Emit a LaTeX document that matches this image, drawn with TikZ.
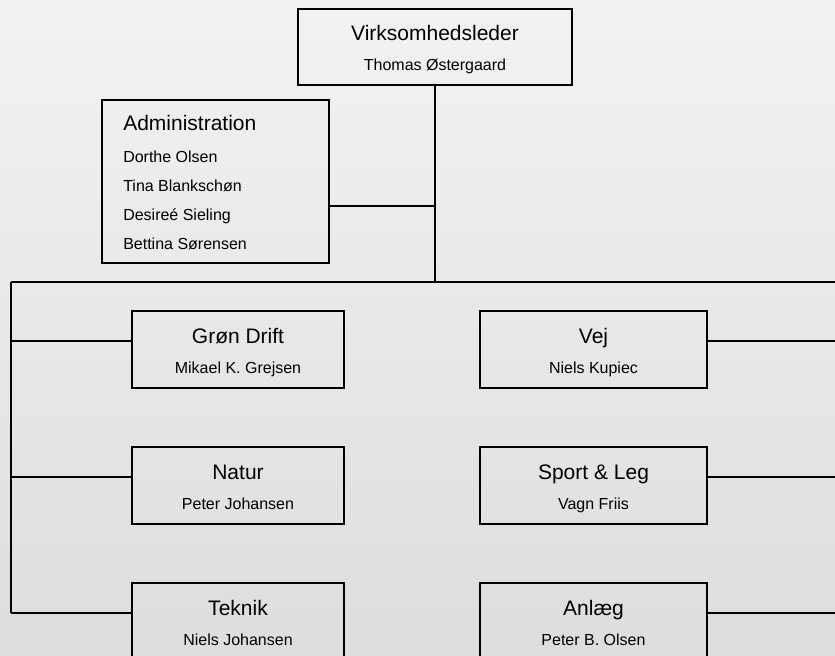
\documentclass[tikz,border=0pt]{standalone}
\usepackage{fontspec}
\setmainfont{Liberation Sans}

\definecolor{bgtop}{RGB}{242,242,242}
\definecolor{bgbottom}{RGB}{221,221,221}

\tikzset{
    unitbox/.style={draw, line width=1.3pt, inner sep=0pt, minimum height=57.75pt},
    headtext/.style={inner sep=0pt, anchor=base, font=\fontsize{15.75}{18}\selectfont},
    nametext/.style={inner sep=0pt, anchor=base, font=\fontsize{12}{14}\selectfont},
    link/.style={line width=1.3pt},
}

\begin{document}
\begin{tikzpicture}[x=0.75pt,y=-0.75pt]

    \shade[top color=bgtop, bottom color=bgbottom] (0,0) rectangle (835,656);
    \useasboundingbox (0,0) rectangle (835,656);

    % leder
    \node [unitbox, minimum width=205.5pt, minimum height=57pt] (boss) at (435,47) {};
    \node [headtext] (boss-head) at (435,41) {Virksomhedsleder};
    \node [nametext] (boss-name) at (435,71) {Thomas Østergaard};

    % administration
    \node [unitbox, minimum width=170.25pt, minimum height=122.25pt] (admin) at (215.5,181.5) {};
    \node [headtext, anchor=base west] (admin-head) at (123,130.5) {Administration};
    \node [nametext, anchor=base west] (admin-a) at (123,162.5) {Dorthe Olsen};
    \node [nametext, anchor=base west] (admin-b) at (123,191) {Tina Blankschøn};
    \node [nametext, anchor=base west] (admin-c) at (123,220) {Desireé Sieling};
    \node [nametext, anchor=base west] (admin-d) at (123,249) {Bettina Sørensen};

    % venstre kolonne
    \node [unitbox, minimum width=159pt] (gron) at (238,349.5) {};
    \node [headtext] (gron-head) at (238,343) {Grøn Drift};
    \node [nametext] (gron-name) at (238,373) {Mikael K. Grejsen};

    \node [unitbox, minimum width=159pt] (natur) at (238,485.5) {};
    \node [headtext] (natur-head) at (238,479) {Natur};
    \node [nametext] (natur-name) at (238,509) {Peter Johansen};

    \node [unitbox, minimum width=159pt] (teknik) at (238,621.5) {};
    \node [headtext] (teknik-head) at (238,615) {Teknik};
    \node [nametext] (teknik-name) at (238,645) {Niels Johansen};

    % hoejre kolonne
    \node [unitbox, minimum width=170.25pt] (vej) at (593.5,349.5) {};
    \node [headtext] (vej-head) at (593.5,343) {Vej};
    \node [nametext] (vej-name) at (593.5,373) {Niels Kupiec};

    \node [unitbox, minimum width=170.25pt] (sport) at (593.5,485.5) {};
    \node [headtext] (sport-head) at (593.5,479) {Sport \& Leg};
    \node [nametext] (sport-name) at (593.5,509) {Vagn Friis};

    \node [unitbox, minimum width=170.25pt] (anlaeg) at (593.5,621.5) {};
    \node [headtext] (anlaeg-head) at (593.5,615) {Anlæg};
    \node [nametext] (anlaeg-name) at (593.5,645) {Peter B. Olsen};

    % forbindelser
    \coordinate (bus-c) at (435,282);
    \coordinate (bus-l) at (11,282);
    \coordinate (bus-r) at (839,282);
    \coordinate (admin-j) at (435,206);

    \draw [link] (boss) -- (bus-c);
    \draw [link] (admin.east |- admin-j) -- (admin-j);
    \draw [link] (bus-l) -- (bus-r);

    \coordinate (gron-j) at (11,341);
    \coordinate (natur-j) at (11,477);
    \coordinate (teknik-j) at (11,613);
    \coordinate (vej-j) at (839,341);
    \coordinate (sport-j) at (839,477);
    \coordinate (anlaeg-j) at (839,613);

    \draw [link] (bus-l) -- (teknik-j);
    \draw [link] (bus-r) -- (anlaeg-j);
    \draw [link] (gron-j) -- (gron.west |- gron-j);
    \draw [link] (natur-j) -- (natur.west |- natur-j);
    \draw [link] (teknik-j) -- (teknik.west |- teknik-j);
    \draw [link] (vej-j) -- (vej.east |- vej-j);
    \draw [link] (sport-j) -- (sport.east |- sport-j);
    \draw [link] (anlaeg-j) -- (anlaeg.east |- anlaeg-j);

\end{tikzpicture}
\end{document}
